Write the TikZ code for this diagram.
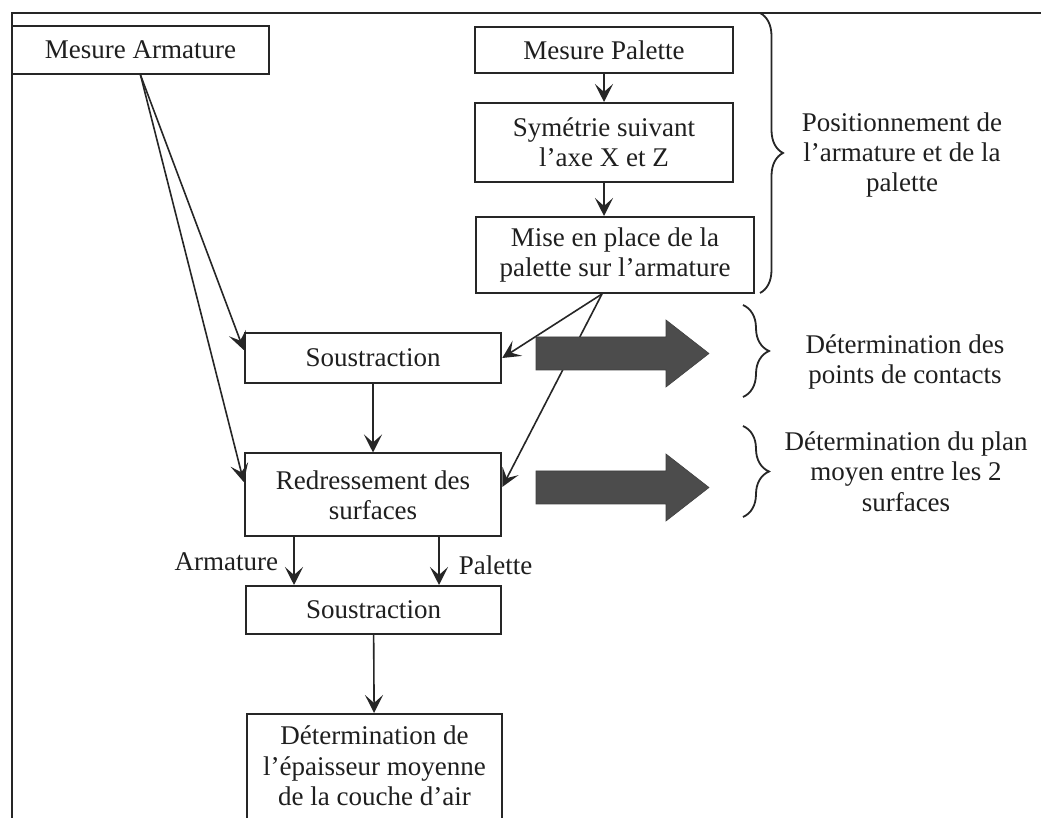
\documentclass[tikz,border=0pt]{standalone}
\usepackage{fontspec}
\setmainfont{Liberation Serif}
\usetikzlibrary{arrows.meta,decorations.pathreplacing,calc}
\begin{document}
\begin{tikzpicture}[x=0.5pt,y=-0.5pt,
  every node/.style={font=\fontsize{13.5pt}{15.2pt}\selectfont, text=black!88},
  box/.style={draw=black!85, line width=1pt, rectangle, inner sep=0pt, align=center},
  arr/.style={draw=black!85, line width=0.8pt, -{Stealth[length=9pt,width=9pt,inset=4pt]}},
  bigarrow/.style={fill=black!70, draw=black!75, line width=0.3pt},
  brc/.style={draw=black!85, line width=0.9pt, decorate, decoration={brace, amplitude=#1}},
]
\clip (0,0) rectangle (1041,818);
\fill[white] (0,0) rectangle (1041,818);
\draw[line width=1pt, black!85] (1041,13) -- (12,13) -- (12,830);

% boxes
\node[box, minimum width=128.5pt, minimum height=24pt] (arm) at (140.5,50) {Mesure Armature};
\node[box, minimum width=129pt, minimum height=23pt] (pal) at (604,50) {Mesure Palette};
\node[box, minimum width=129pt, minimum height=39.5pt] (sym) at (604,142.5) {Symétrie suivant\\l’axe X et Z};
\node[box, minimum width=139pt, minimum height=38pt] (mise) at (615,255) {Mise en place de la\\palette sur l’armature};
\node[box, minimum width=128.25pt, minimum height=25.25pt] (sous1) at (373,358) {Soustraction};
\node[box, minimum width=128.25pt, minimum height=41.5pt] (redr) at (373,495) {Redressement des\\surfaces};
\node[box, minimum width=127.5pt, minimum height=24pt] (sous2) at (373.5,610) {Soustraction};
\node[box, minimum width=127.5pt, anchor=north, inner ysep=6pt] (det) at (374.5,713) {Détermination de\\l’épaisseur moyenne\\de la couche d’air\rule[-10pt]{0pt}{0pt}};

% connectors
\draw[arr] (pal) -- (sym);
\draw[arr] (sym.south) -- (sym.south |- mise.north);
\coordinate (mb) at ($(mise.south)+(-13,0)$);
\draw[arr] (mb) -- (sous1.east);
\draw[arr] (mb) -- ($(redr.east)+(0,-8)$);
\draw[arr] (arm.south) -- ($(sous1.west)+(0,-8)$);
\draw[arr] (arm.south) -- ($(redr.west)+(0,-13)$);
\draw[arr] (sous1) -- (redr);
\coordinate (xa) at (294,0);
\coordinate (xp) at (439,0);
\draw[arr] (redr.south -| xa) -- (sous2.north -| xa) node[pos=0.5, anchor=east, inner sep=0pt, xshift=-7.5pt] (la) {Armature};
\draw[arr] (redr.south -| xp) -- (sous2.north -| xp) node[pos=0.58, anchor=west, inner sep=0pt, xshift=9.5pt] (lp) {Palette};
\draw[arr] (sous2) -- (det);

% big arrows
\filldraw[bigarrow] (536,337) -- (666,337) -- (666,320) -- (709,353.5) -- (666,387) -- (666,370) -- (536,370) -- cycle;
\filldraw[bigarrow] (536,471) -- (666,471) -- (666,454) -- (709,487.5) -- (666,521) -- (666,504) -- (536,504) -- cycle;

% braces
\draw[brc=11.5pt] (760,13) -- (760,293);
\draw[brc=13pt] (743,305) -- (743,397);
\draw[brc=13pt] (743,426) -- (743,517);

% side texts
\node[align=center] (t1) at (902,155) {Positionnement de\\l’armature et de la\\palette};
\node[align=center] (t2) at (905,362) {Détermination des\\points de contacts};
\node[align=center] (t3) at (906,471.5) {Détermination du plan\\moyen entre les 2\\surfaces};
\end{tikzpicture}
\end{document}
